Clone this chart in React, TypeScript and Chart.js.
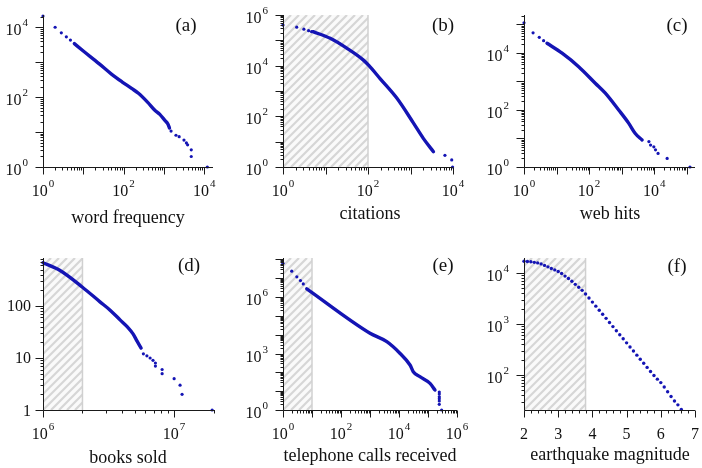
import React, { useEffect, useRef } from 'react';
import { Chart, registerables } from 'chart.js';

Chart.register(...registerables);

const W = 702;
const H = 468;
const BLUE = '#1414b4';
const FONT = '"Liberation Serif", "Times New Roman", serif';

// ---------- (a) word frequency ----------
const aLineX = [6, 10, 24.5, 50, 91, 158, 234, 398, 589, 794, 1047, 1259, 1380];
const aLineY = [3390, 2090, 912, 457, 275, 178, 129, 71, 43, 32, 22, 17, 13];
const aDotX = [1, 2, 2.85, 3.8, 4.8, 1510, 2000, 2400, 3160, 3630, 3890, 4790, 4790, 12000];
const aDotY = [21000, 10000, 6900, 5300, 4300, 10.7, 8.1, 7.4, 5.9, 4.9, 4.3, 3.1, 2.0, 1];
const aXLabels = [1, 100, 10000];
const aYLabels = [1, 100, 10000];

// ---------- (b) citations ----------
const bLineX = [5.1, 12.9, 31.6, 78, 107, 190, 480, 1175, 2000, 3470];
const bLineY = [220000, 120000, 49000, 16600, 9800, 3160, 513, 54, 13.5, 4.0];
const bDotX = [1, 2.1, 3.1, 4.0, 4.7, 6460, 9330, 9770];
const bDotY = [400000, 330000, 275000, 240000, 220000, 2.9, 1.9, 1];
const bXLabels = [1, 100, 10000];
const bYLabels = [1, 100, 10000, 1000000];

// ---------- (c) web hits ----------
const cLineX = [5.1, 14.8, 47.9, 155, 316, 813, 1660, 2630, 4270];
const cLineY = [21900, 9800, 3300, 870, 389, 100, 34, 15, 8.9];
const cDotX = [1, 1.9, 2.95, 4, 6900, 7760, 9770, 11000, 13200, 25100, 126000];
const cDotY = [115000, 51000, 35500, 27000, 7.8, 5.9, 5.1, 4.0, 3.0, 2.0, 1];
const cXLabels = [1, 100, 10000];
const cYLabels = [1, 100, 10000];

// ---------- (d) books sold ----------
const dLineX = [1.0e6, 1.35e6, 2.0e6, 2.72e6, 3.25e6, 3.87e6, 4.38e6, 4.86e6, 5.22e6, 5.6e6];
const dLineY = [676, 479, 229, 120, 83, 54, 40, 29, 21, 15.5];
const dDotX = [5.83e6, 6.2e6, 6.56e6, 6.9e6, 7.2e6, 7.2e6, 8.1e6, 8.1e6, 1.0e7, 1.11e7, 1.15e7, 1.95e7];
const dDotY = [12, 11, 10, 9, 8, 7, 6, 5, 4, 3, 2, 1];
const dXLabels = [1e6, 1e7];
const dYLabels = [1, 10, 100];

// ---------- (e) telephone calls received ----------
const eLineX = [6.6, 1000, 3800, 10700, 24000, 31000, 52500, 117500, 174000];
const eLineY = [2750000, 12000, 4270, 1040, 247, 109, 59, 26, 11.5];
const eDotX = [1, 2, 3, 4, 5, 245000, 245000, 245000, 245000, 245000, 245000, 295000];
const eDotY = [63000000, 24000000, 12000000, 7600000, 5000000, 9, 7, 5, 4, 3, 2, 1];
const eXLabels = [1, 100, 10000, 1000000];
const eYLabels = [1, 1000, 1000000];

// ---------- (f) earthquake magnitude ----------
const fX = [2.0, 2.1, 2.2, 2.3, 2.4, 2.5, 2.6, 2.7, 2.8, 2.9, 3.0, 3.1, 3.2, 3.3, 3.4, 3.5, 3.6, 3.7, 3.8, 3.9,
  4.0, 4.1, 4.2, 4.3, 4.4, 4.5, 4.6, 4.7, 4.8, 4.9, 5.0, 5.1, 5.2, 5.3, 5.4, 5.5, 5.6, 5.7, 5.8, 5.9,
  6.0, 6.1, 6.2, 6.3, 6.4, 6.5, 6.6];
const fY = [17000, 16800, 16600, 16200, 15800, 15100, 14100, 13200, 12300, 11500, 10700, 9800, 8700, 7800, 6900,
  6000, 5250, 4570, 3890, 3240, 2690, 2240, 1860, 1550, 1290, 1070, 890, 740, 617, 513, 427, 355, 295, 245,
  204, 170, 141, 117, 98, 83, 71, 58, 47, 38, 31, 26, 21];
const fXLabels = [2, 3, 4, 5, 6, 7];
const fYLabels = [100, 1000, 10000];

type Axis = { type: 'logarithmic' | 'linear'; min: number; max: number; labels: number[]; pow: boolean; minorStep?: number };
type Panel = {
  id: string;
  tag: string;
  title: string;
  area: [number, number, number, number];
  x: Axis;
  y: Axis;
  hatch?: number;
  tagPos: [number, number];
  titlePos: [number, number];
  lineX: number[];
  lineY: number[];
  dotX: number[];
  dotY: number[];
  dotRadius: number;
};

const panels: Panel[] = [
  {
    id: 'a', tag: '(a)', title: 'word frequency', area: [43, 15, 213, 167],
    x: { type: 'logarithmic', min: 1, max: 16600, labels: aXLabels, pow: true },
    y: { type: 'logarithmic', min: 1, max: 22400, labels: aYLabels, pow: true },
    tagPos: [186, 26], titlePos: [128, 223],
    lineX: aLineX, lineY: aLineY, dotX: aDotX, dotY: aDotY, dotRadius: 1.6,
  },
  {
    id: 'b', tag: '(b)', title: 'citations', area: [283, 15, 453, 167],
    x: { type: 'logarithmic', min: 1, max: 10000, labels: bXLabels, pow: true },
    y: { type: 'logarithmic', min: 1, max: 1000000, labels: bYLabels, pow: true },
    hatch: 100,
    tagPos: [443, 26], titlePos: [370, 219],
    lineX: bLineX, lineY: bLineY, dotX: bDotX, dotY: bDotY, dotRadius: 1.6,
  },
  {
    id: 'c', tag: '(c)', title: 'web hits', area: [524, 15, 695, 167],
    x: { type: 'logarithmic', min: 1, max: 180000, labels: cXLabels, pow: true },
    y: { type: 'logarithmic', min: 1, max: 215000, labels: cYLabels, pow: true },
    tagPos: [677, 26], titlePos: [610, 219],
    lineX: cLineX, lineY: cLineY, dotX: cDotX, dotY: cDotY, dotRadius: 1.6,
  },
  {
    id: 'd', tag: '(d)', title: 'books sold', area: [43, 258, 215, 410],
    x: { type: 'logarithmic', min: 1e6, max: 2.05e7, labels: dXLabels, pow: true },
    y: { type: 'logarithmic', min: 1, max: 835, labels: dYLabels, pow: false },
    hatch: 2e6,
    tagPos: [189, 266], titlePos: [128, 463],
    lineX: dLineX, lineY: dLineY, dotX: dDotX, dotY: dDotY, dotRadius: 1.6,
  },
  {
    id: 'e', tag: '(e)', title: 'telephone calls received', area: [283, 258, 457, 410],
    x: { type: 'logarithmic', min: 1, max: 1000000, labels: eXLabels, pow: true },
    y: { type: 'logarithmic', min: 1, max: 1.2e8, labels: eYLabels, pow: true },
    hatch: 10,
    tagPos: [443, 266], titlePos: [370, 461],
    lineX: eLineX, lineY: eLineY, dotX: eDotX, dotY: eDotY, dotRadius: 1.6,
  },
  {
    id: 'f', tag: '(f)', title: 'earthquake magnitude', area: [524, 258, 695, 410],
    x: { type: 'linear', min: 2, max: 7, labels: fXLabels, pow: false, minorStep: 0.2 },
    y: { type: 'logarithmic', min: 20.6, max: 19700, labels: fYLabels, pow: true },
    hatch: 3.8,
    tagPos: [677, 267], titlePos: [610, 460],
    lineX: [], lineY: [], dotX: fX, dotY: fY, dotRadius: 1.7,
  },
];

function tickList(ax: Axis): { v: number; major: boolean }[] {
  const out: { v: number; major: boolean }[] = [];
  if (ax.type === 'linear') {
    const step = ax.minorStep || 1;
    const n = Math.round((ax.max - ax.min) / step);
    for (let i = 0; i <= n; i++) {
      const v = ax.min + i * step;
      out.push({ v, major: Math.abs(v - Math.round(v)) < 1e-6 });
    }
    return out;
  }
  const e0 = Math.floor(Math.log10(ax.min));
  const e1 = Math.ceil(Math.log10(ax.max));
  for (let e = e0; e <= e1; e++) {
    for (let m = 1; m <= 9; m++) {
      const v = m * Math.pow(10, e);
      if (v >= ax.min * 0.9999 && v <= ax.max * 1.0001) out.push({ v, major: m === 1 });
    }
  }
  return out;
}

function labelParts(v: number, pow: boolean): [string, string] {
  if (pow) return ['10', String(Math.round(Math.log10(v)))];
  return [String(v), ''];
}

const BASE_FONT = `16px ${FONT}`;
const EXP_FONT = `11px ${FONT}`;

function measure(ctx: CanvasRenderingContext2D, parts: [string, string]) {
  ctx.font = BASE_FONT;
  const wb = ctx.measureText(parts[0]).width;
  let we = 0;
  if (parts[1]) {
    ctx.font = EXP_FONT;
    we = ctx.measureText(parts[1]).width + 1;
  }
  return { wb, we, total: wb + we };
}

function drawLabel(ctx: CanvasRenderingContext2D, parts: [string, string], left: number, baseline: number) {
  const m = measure(ctx, parts);
  ctx.font = BASE_FONT;
  ctx.textAlign = 'left';
  ctx.textBaseline = 'alphabetic';
  ctx.fillText(parts[0], left, baseline);
  if (parts[1]) {
    ctx.font = EXP_FONT;
    ctx.fillText(parts[1], left + m.wb + 1, baseline - 9);
  }
}

function makeDecor(p: Panel) {
  return {
    id: 'decor' + p.id,
    beforeDatasetsDraw(chart: any) {
      if (p.hatch == null) return;
      const { ctx, chartArea: ca, scales } = chart;
      const xe = scales.x.getPixelForValue(p.hatch);
      const h = ca.bottom - ca.top;
      ctx.save();
      ctx.beginPath();
      ctx.rect(ca.left, ca.top, xe - ca.left, h);
      ctx.clip();
      ctx.fillStyle = '#fafafa';
      ctx.fillRect(ca.left, ca.top, xe - ca.left, h);
      ctx.strokeStyle = '#d6d6d6';
      ctx.lineWidth = 2.2;
      ctx.beginPath();
      for (let x0 = ca.left - h; x0 < xe + 10; x0 += 8) {
        ctx.moveTo(x0, ca.bottom);
        ctx.lineTo(x0 + h, ca.top);
      }
      ctx.stroke();
      ctx.restore();
      ctx.save();
      ctx.strokeStyle = '#d0d0d0';
      ctx.lineWidth = 1.5;
      ctx.beginPath();
      ctx.moveTo(xe, ca.top);
      ctx.lineTo(xe, ca.bottom);
      ctx.stroke();
      ctx.restore();
    },
    afterDraw(chart: any) {
      const { ctx, chartArea: ca, scales } = chart;
      const xs = scales.x;
      const ys = scales.y;
      const L = Math.round(ca.left) + 0.5;
      const B = Math.round(ca.bottom) + 0.5;
      ctx.save();
      ctx.strokeStyle = '#1a1a1a';
      ctx.lineWidth = 1;
      ctx.beginPath();
      ctx.moveTo(L, ca.top);
      ctx.lineTo(L, B);
      ctx.lineTo(ca.right, B);
      ctx.stroke();
      // ticks
      ctx.beginPath();
      for (const t of tickList(p.y)) {
        const y = Math.round(ys.getPixelForValue(t.v)) + 0.5;
        ctx.moveTo(L, y);
        ctx.lineTo(L - (t.major ? 8 : 3), y);
      }
      for (const t of tickList(p.x)) {
        const x = Math.round(xs.getPixelForValue(t.v)) + 0.5;
        ctx.moveTo(x, B);
        ctx.lineTo(x, B + (t.major ? 7 : 3));
      }
      ctx.stroke();
      // labels
      ctx.fillStyle = '#111';
      for (const v of p.y.labels) {
        const y = ys.getPixelForValue(v);
        const parts = labelParts(v, p.y.pow);
        const m = measure(ctx, parts);
        const right = ca.left - (p.y.pow ? 15 : 12);
        drawLabel(ctx, parts, right - m.total, y + (p.y.pow ? 8 : 5.5));
      }
      for (const v of p.x.labels) {
        const x = xs.getPixelForValue(v);
        const parts = labelParts(v, p.x.pow);
        const m = measure(ctx, parts);
        drawLabel(ctx, parts, x - m.total / 2, ca.bottom + 29);
      }
      // axis title
      ctx.font = `18px ${FONT}`;
      ctx.textAlign = 'center';
      ctx.textBaseline = 'alphabetic';
      ctx.fillText(p.title, p.titlePos[0], p.titlePos[1]);
      // panel tag
      ctx.font = `19px ${FONT}`;
      ctx.textBaseline = 'middle';
      ctx.fillText(p.tag, p.tagPos[0], p.tagPos[1]);
      ctx.restore();
    },
  };
}

function PanelChart({ p }: { p: Panel }) {
  const ref = useRef<HTMLCanvasElement>(null);
  useEffect(() => {
    const canvas = ref.current;
    if (!canvas) return;
    const [l, t, r, b] = p.area;
    const lineData = p.lineX.map((x, i) => ({ x, y: p.lineY[i] }));
    const dotData = p.dotX.map((x, i) => ({ x, y: p.dotY[i] }));
    const chart = new Chart(canvas, {
      type: 'scatter',
      data: {
        datasets: [
          {
            data: lineData,
            showLine: true,
            borderColor: BLUE,
            borderWidth: 3.4,
            borderCapStyle: 'round',
            pointRadius: 0,
            cubicInterpolationMode: 'monotone',
            clip: false,
          } as any,
          {
            data: dotData,
            showLine: false,
            pointRadius: p.dotRadius,
            pointBackgroundColor: BLUE,
            pointBorderWidth: 0,
            clip: false,
          } as any,
        ],
      },
      options: {
        responsive: false,
        animation: false,
        events: [],
        layout: { padding: { left: l, top: t, right: W - r, bottom: H - b } },
        scales: {
          x: { type: p.x.type, min: p.x.min, max: p.x.max, display: false },
          y: { type: p.y.type, min: p.y.min, max: p.y.max, display: false },
        },
        plugins: { legend: { display: false }, tooltip: { enabled: false } },
      },
      plugins: [makeDecor(p)],
    });
    return () => chart.destroy();
  }, [p]);
  return (
    <canvas
      ref={ref}
      width={W}
      height={H}
      style={{ position: 'absolute', left: 0, top: 0, width: W, height: H }}
    />
  );
}

export default function App() {
  return (
    <div style={{ position: 'absolute', left: 0, top: 0, width: W, height: H, background: '#ffffff', overflow: 'hidden' }}>
      {panels.map((p) => (
        <PanelChart key={p.id} p={p} />
      ))}
    </div>
  );
}
